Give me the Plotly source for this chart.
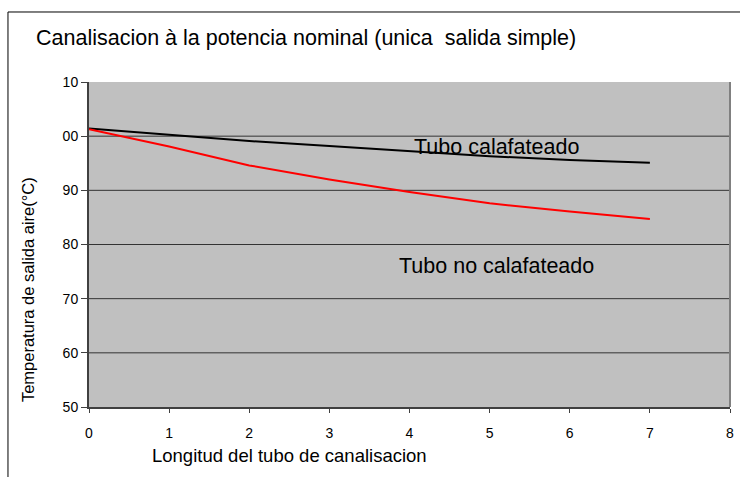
import plotly.graph_objects as go

# Longitud del tubo (x) and temperatures
longitud = [0, 1, 2, 3, 4, 5, 6, 7]
temp_calafateado = [101.4, 100.2, 99.1, 98.2, 97.2, 96.3, 95.6, 95.1]
temp_no_calafateado = [101.3, 98.1, 94.6, 92.0, 89.7, 87.6, 86.1, 84.7]

y_tickvals = [50, 60, 70, 80, 90, 100, 110]
y_ticktext = ["50", "60", "70", "80", "90", "00", "10"]
x_tickvals = [0, 1, 2, 3, 4, 5, 6, 7, 8]
grid_vals = [60, 70, 80, 90, 100]

FONT = "Liberation Sans, Arial, sans-serif"

fig = go.Figure()

fig.add_trace(go.Scatter(
    x=longitud, y=temp_calafateado, mode="lines",
    line=dict(color="black", width=2), name="Tubo calafateado"
))
fig.add_trace(go.Scatter(
    x=longitud, y=temp_no_calafateado, mode="lines",
    line=dict(color="#ff0000", width=2), name="Tubo no calafateado"
))

# horizontal grid lines
for g in grid_vals:
    fig.add_hline(y=g, line_color="#333333", line_width=1, layer="below")

# right border of the plot area
fig.add_shape(type="line", xref="paper", yref="paper", x0=1, x1=1, y0=0, y1=1,
              line=dict(color="#808080", width=2))

# outer chart frame (cropped on the right and bottom)
fig.add_shape(type="rect", xref="paper", yref="paper",
              x0=-0.1264, x1=1.05, y0=-0.25, y1=1.2154,
              line=dict(color="black", width=1), fillcolor="rgba(0,0,0,0)")

fig.add_annotation(text="Canalisacion à la potencia nominal (unica  salida simple)",
                   xref="paper", yref="paper", x=-0.086, y=1.135,
                   xanchor="left", yanchor="middle", showarrow=False,
                   font=dict(size=21.5, color="black", family=FONT))
fig.add_annotation(text="Longitud del tubo de canalisacion",
                   xref="paper", yref="paper", x=0.313, y=-0.148,
                   xanchor="center", yanchor="middle", showarrow=False,
                   font=dict(size=18.5, color="black", family=FONT))
fig.add_annotation(text="Temperatura de salida aire(°C)",
                   xref="paper", yref="paper", x=-0.095, y=0.36,
                   xanchor="center", yanchor="middle", textangle=-90, showarrow=False,
                   font=dict(size=16.5, color="black", family=FONT))
fig.add_annotation(text="Tubo calafateado", x=5.09, y=98.0,
                   showarrow=False, xanchor="center", yanchor="middle",
                   font=dict(size=21.5, color="black", family=FONT))
fig.add_annotation(text="Tubo no calafateado", x=5.09, y=76.05,
                   showarrow=False, xanchor="center", yanchor="middle",
                   font=dict(size=21.5, color="black", family=FONT))

fig.update_layout(
    width=740, height=477,
    margin=dict(l=89, r=10, t=82, b=70),
    paper_bgcolor="white",
    plot_bgcolor="#c0c0c0",
    showlegend=False,
    font=dict(family=FONT, color="black", size=14),
)
fig.update_xaxes(
    range=[0, 8], tickvals=x_tickvals, showgrid=False, zeroline=False,
    showline=True, linecolor="#404040", linewidth=2,
    ticks="outside", ticklen=4, tickcolor="#404040",
    ticklabelstandoff=8, tickfont=dict(size=14), automargin=False
)
fig.update_yaxes(
    range=[50, 110], tickvals=y_tickvals, ticktext=y_ticktext,
    showgrid=False, zeroline=False,
    showline=True, linecolor="#404040", linewidth=2,
    ticks="outside", ticklen=6, tickcolor="#404040",
    tickfont=dict(size=14), automargin=False
)

fig.write_html("out.html", config={"displayModeBar": False},
               post_script="document.body.style.margin='0';")
